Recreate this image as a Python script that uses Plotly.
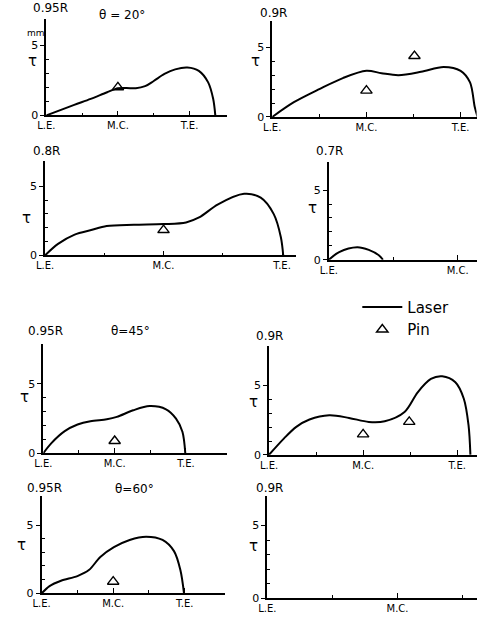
import plotly.graph_objects as go

# ---- measured profiles: chordwise position (L.E.=0, M.C.=1, T.E.=2) vs tau [mm] ----
# theta = 20 deg
r095_t20_x = [0, 0.39, 0.62, 0.85, 1.0, 1.12, 1.25, 1.38, 1.50, 1.65, 1.80, 1.97, 2.13, 2.26, 2.33, 2.36]
r095_t20_y = [0, 0.75, 1.18, 1.65, 1.93, 1.95, 1.93, 2.08, 2.45, 2.95, 3.28, 3.41, 3.17, 2.35, 1.18, 0]
r095_t20_pin_x = [1.0]
r095_t20_pin_y = [2.0]

r090_t20_x = [0, 0.23, 0.50, 0.75, 1.0, 1.16, 1.34, 1.58, 1.82, 2.0, 2.10, 2.15, 2.18]
r090_t20_y = [0, 1.06, 2.0, 2.79, 3.31, 3.14, 3.0, 3.24, 3.59, 3.31, 2.48, 0.71, 0]
r090_t20_pin_x = [1.0, 1.51]
r090_t20_pin_y = [1.89, 4.37]

r080_t20_x = [0, 0.11, 0.25, 0.39, 0.52, 0.75, 1.0, 1.19, 1.30, 1.46, 1.68, 1.82, 1.93, 1.99, 2.01]
r080_t20_y = [0, 0.83, 1.5, 1.83, 2.12, 2.21, 2.26, 2.38, 2.74, 3.69, 4.45, 4.17, 2.98, 1.31, 0]
r080_t20_pin_x = [1.0]
r080_t20_pin_y = [1.83]

r070_t20_x = [0, 0.08, 0.22, 0.31, 0.39, 0.42]
r070_t20_y = [0, 0.55, 0.9, 0.71, 0.31, 0]

# theta = 45 deg
r095_t45_x = [0, 0.11, 0.30, 0.48, 0.66, 0.89, 1.03, 1.26, 1.49, 1.72, 1.86, 1.95, 1.99]
r095_t45_y = [0, 0.71, 1.59, 2.07, 2.31, 2.45, 2.62, 3.1, 3.4, 3.17, 2.5, 1.55, 0]
r095_t45_pin_x = [1.0]
r095_t45_pin_y = [0.88]

r090_t45_x = [0, 0.16, 0.29, 0.43, 0.64, 0.85, 1.06, 1.23, 1.44, 1.58, 1.72, 1.84, 1.98, 2.07, 2.12, 2.14]
r090_t45_y = [0, 1.19, 2.02, 2.55, 2.86, 2.67, 2.38, 2.43, 3.1, 4.52, 5.48, 5.67, 5.24, 4.05, 2.14, 0]
r090_t45_pin_x = [1.0, 1.49]
r090_t45_pin_y = [1.48, 2.38]

# theta = 60 deg
r095_t60_x = [0, 0.11, 0.27, 0.50, 0.66, 0.82, 1.01, 1.23, 1.46, 1.69, 1.85, 1.94, 1.99]
r095_t60_y = [0, 0.53, 0.92, 1.26, 1.70, 2.66, 3.38, 3.91, 4.15, 3.91, 3.09, 1.69, 0]
r095_t60_pin_x = [1.0]
r095_t60_pin_y = [0.85]

radius_labels = ["0.95R", "0.9R", "0.8R", "0.7R", "0.95R", "0.9R", "0.95R", "0.9R"]
theta_labels = ["θ = 20°", "θ=45°", "θ=60°"]
chord_ticks = [0, 1, 2]
chord_labels = ["L.E.", "M.C.", "T.E."]
tau_ticks = [0, 5]
tau_labels = ["0", "5"]

laser = [
    (r095_t20_x, r095_t20_y), (r090_t20_x, r090_t20_y),
    (r080_t20_x, r080_t20_y), (r070_t20_x, r070_t20_y),
    (r095_t45_x, r095_t45_y), (r090_t45_x, r090_t45_y),
    (r095_t60_x, r095_t60_y), None,
]
pins = [
    (r095_t20_pin_x, r095_t20_pin_y), (r090_t20_pin_x, r090_t20_pin_y),
    (r080_t20_pin_x, r080_t20_pin_y), None,
    (r095_t45_pin_x, r095_t45_pin_y), (r090_t45_pin_x, r090_t45_pin_y),
    (r095_t60_pin_x, r095_t60_pin_y), None,
]

# ---- page geometry (pixels): axis origin, px per unit, axis extents ----
W, H = 477, 625
panels = [
    dict(x0=38.0, y0=116.7, ux=73.0, uy=14.2, xmax=2.53, ymax=6.9),
    dict(x0=268.3, y0=118.3, ux=96.0, uy=14.1, xmax=2.17, ymax=6.9),
    dict(x0=36.7, y0=258.3, ux=120.8, uy=14.0, xmax=2.12, ymax=6.85),
    dict(x0=326.0, y0=262.7, ux=131.3, uy=14.08, xmax=1.15, ymax=7.0),
    dict(x0=35.0, y0=458.3, ux=72.7, uy=14.0, xmax=2.57, ymax=7.9),
    dict(x0=265.0, y0=460.0, ux=96.0, uy=14.0, xmax=2.21, ymax=7.85),
    dict(x0=33.3, y0=600.0, ux=72.9, uy=13.8, xmax=2.56, ymax=7.1),
    dict(x0=263.3, y0=605.0, ux=132.7, uy=14.7, xmax=1.61, ymax=7.0),
]
title_pos = [(42, 8), (270, 13), (38, 153), (327, 153), (37, 335), (266, 340), (36, 494), (266, 494)]
tau_pos = [(24, 62), (251, 62), (18, 220), (309, 210), (16, 402), (249, 407), (13, 551), (249, 552)]
theta_pos = [(115, 15), (124, 335), (128, 495)]

FONT = "DejaVu Sans"
fig = go.Figure()
layout = dict(
    width=W, height=H, margin=dict(l=0, r=0, t=0, b=0),
    paper_bgcolor="white", plot_bgcolor="white",
    font=dict(family=FONT, color="black", size=10),
)
annotations = []

def px(x):
    return x / W

def py(y):
    return 1 - y / H

def label(x, y, text, size):
    return dict(x=px(x), y=py(y), xref="paper", yref="paper", text=text,
                showarrow=False, xanchor="center", yanchor="middle",
                font=dict(size=size, family=FONT, color="black"))

for i, g in enumerate(panels):
    n = "" if i == 0 else str(i + 1)
    xa, ya = "x" + n, "y" + n
    x_dom = [px(g["x0"]), min(1.0, px(g["x0"] + g["xmax"] * g["ux"]))]
    y_dom = [py(g["y0"]), py(g["y0"] - g["ymax"] * g["uy"])]
    shown = [(v, t) for v, t in zip(chord_ticks, chord_labels) if v <= g["xmax"]]
    layout["xaxis" + n] = dict(
        domain=x_dom, anchor=ya, range=[0, g["xmax"]],
        showline=True, linecolor="black", linewidth=1.7,
        showgrid=False, zeroline=False,
        tickmode="array", tickvals=[v for v, _ in shown], ticktext=[t for _, t in shown],
        ticks="inside", ticklen=5, tickwidth=1.2, tickcolor="black",
        tickfont=dict(size=10, family=FONT),
        minor=dict(tickmode="array", tickvals=[0.5, 1.5], ticks="inside",
                   ticklen=3, tickwidth=1, tickcolor="black"),
    )
    layout["yaxis" + n] = dict(
        domain=y_dom, anchor=xa, range=[0, g["ymax"]],
        showline=True, linecolor="black", linewidth=1.7,
        showgrid=False, zeroline=False,
        tickmode="array", tickvals=tau_ticks, ticktext=tau_labels,
        ticks="outside", ticklen=4, tickwidth=1.2, tickcolor="black",
        tickfont=dict(size=11, family=FONT),
        minor=dict(tickmode="array", tickvals=[1, 2, 3, 4], ticks="inside",
                   ticklen=3, tickwidth=1, tickcolor="black"),
    )

    if laser[i] is not None:
        lx, ly = laser[i]
        fig.add_trace(go.Scatter(
            x=lx, y=ly, xaxis=xa, yaxis=ya, mode="lines", name="Laser",
            line=dict(color="black", width=2, shape="spline", smoothing=0.9),
            showlegend=(i == 0), legendrank=1, hoverinfo="skip",
        ))
    else:
        # empty trace so the blank panel still gets its axes
        fig.add_trace(go.Scatter(x=[], y=[], xaxis=xa, yaxis=ya, mode="lines",
                                 showlegend=False, hoverinfo="skip"))
    if pins[i] is not None:
        bx, by = pins[i]
        fig.add_trace(go.Scatter(
            x=bx, y=by, xaxis=xa, yaxis=ya, mode="markers", name="Pin",
            marker=dict(symbol="triangle-up-open", size=10, color="black",
                        line=dict(width=1.4, color="black")),
            showlegend=(i == 0), legendrank=2, hoverinfo="skip",
        ))

    tx, ty = title_pos[i]
    annotations.append(label(tx, ty, radius_labels[i], 12))
    sx, sy = tau_pos[i]
    annotations.append(label(sx, sy, "τ", 15))

for (tx, ty), text in zip(theta_pos, theta_labels):
    annotations.append(label(tx, ty, text, 12))

annotations.append(label(28, 33, "mm", 9))

layout["annotations"] = annotations
layout["showlegend"] = True
layout["legend"] = dict(
    x=px(355), y=py(294), xanchor="left", yanchor="top",
    font=dict(size=15, family=FONT), bgcolor="rgba(0,0,0,0)",
    itemwidth=40, tracegroupgap=0,
)
fig.update_layout(**layout)
fig.write_html("out.html")
